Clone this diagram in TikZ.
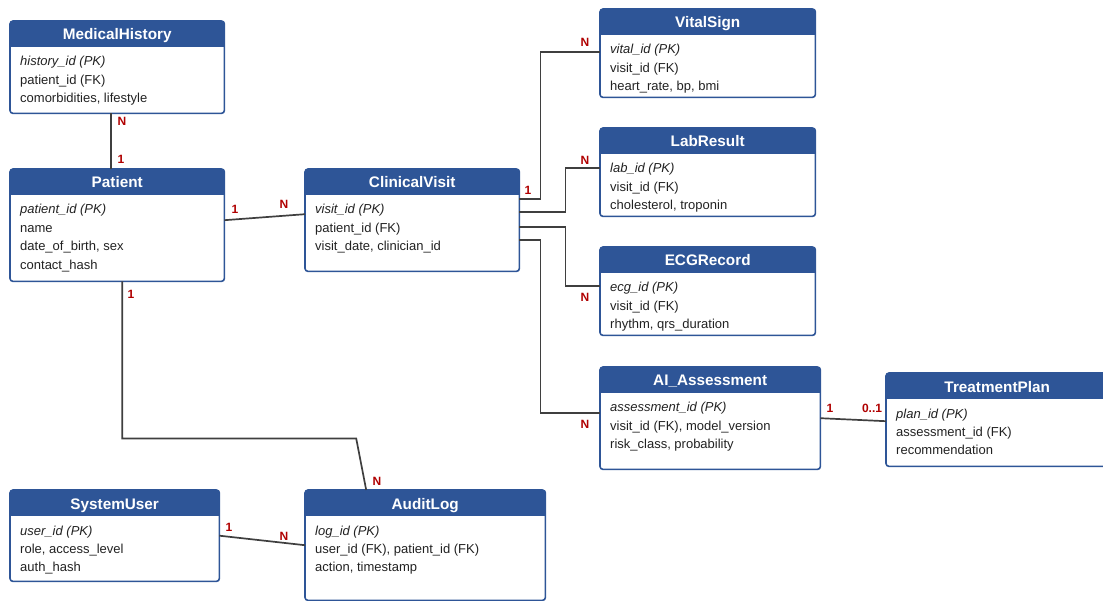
\documentclass[tikz,border=0pt]{standalone}
\usepackage{fontspec}
\setmainfont{Liberation Sans}
\usetikzlibrary{calc,positioning}
\definecolor{hdrblue}{HTML}{2E5597}
\definecolor{cardred}{HTML}{B00000}
\definecolor{linkgray}{HTML}{3F3F3F}
\definecolor{rowtext}{HTML}{222222}
\newcommand{\rowfont}{\fontsize{13}{16}\selectfont}
% name, x, y, width, height, title, key row, other rows
\newcommand{\entity}[8]{%
  \node[entbody, minimum width=#4pt, minimum height=#5pt] (#1) at (#2,#3) {};
  \begin{scope}
    \clip[rounded corners=3pt] (#1.north west) rectangle (#1.south east);
    \fill[hdrblue] (#1.north west) rectangle ($(#1.north east)+(0,26)$);
  \end{scope}
  \draw[entline] (#1.north west) rectangle (#1.south east);
  \node[enttitle] (#1-title) at ($(#1.north)+(0,19)$) {#6};
  \node[entrow, font=\rowfont\itshape] (#1-key) at ($(#1.north west)+(10,45)$) {#7};
  \foreach \r [count=\i] in {#8}
    \node[entrow] (#1-row\i) at ($(#1.north west)+(10,{45+18.4*\i})$) {\r};
}

\begin{document}
\begin{tikzpicture}[x=1pt, y=-1pt,
  entbody/.style={anchor=north west, inner sep=0pt, fill=white, rounded corners=3pt},
  entline/.style={draw=hdrblue, line width=1.6pt, rounded corners=3pt},
  enttitle/.style={anchor=base, inner sep=0pt, text=white, font=\fontsize{15.3}{18}\selectfont\bfseries},
  entrow/.style={anchor=base west, inner sep=0pt, text=rowtext, font=\rowfont},
  card/.style={inner sep=0pt, text=cardred, font=\fontsize{12}{14}\selectfont\bfseries},
  link/.style={draw=linkgray, line width=1.7pt}]

\useasboundingbox (0,0) rectangle (1103,601);

\entity{history}{10}{21}{214}{92}{MedicalHistory}{history\_id (PK)}{{patient\_id (FK)},{comorbidities, lifestyle}}
\entity{patient}{10}{169}{214}{112}{Patient}{patient\_id (PK)}{{name},{date\_of\_birth, sex},{contact\_hash}}
\entity{visit}{305}{169}{214}{102}{ClinicalVisit}{visit\_id (PK)}{{patient\_id (FK)},{visit\_date, clinician\_id}}
\entity{vital}{600}{9}{215}{88}{VitalSign}{vital\_id (PK)}{{visit\_id (FK)},{heart\_rate, bp, bmi}}
\entity{lab}{600}{128}{215}{88}{LabResult}{lab\_id (PK)}{{visit\_id (FK)},{cholesterol, troponin}}
\entity{ecg}{600}{247}{215}{88}{ECGRecord}{ecg\_id (PK)}{{visit\_id (FK)},{rhythm, qrs\_duration}}
\entity{assess}{600}{367}{220}{102}{AI\_Assessment}{assessment\_id (PK)}{{visit\_id (FK), model\_version},{risk\_class, probability}}
\entity{plan}{886}{373}{222}{93}{TreatmentPlan}{plan\_id (PK)}{{assessment\_id (FK)},{recommendation}}
\entity{user}{10}{490}{209}{91}{SystemUser}{user\_id (PK)}{{role, access\_level},{auth\_hash}}
\entity{audit}{305}{490}{240}{110}{AuditLog}{log\_id (PK)}{{user\_id (FK), patient\_id (FK)},{action, timestamp}}

% relationships
\draw[link] ($(history.south)+(-6,0)$) -- ($(patient.north)+(-6,0)$);
\draw[link] ($(patient.east)+(0,-5)$) -- ($(visit.west)+(0,-6)$);
\draw[link] ($(visit.east)+(0,-21)$) -- ++(21,0) |- ($(vital.west)+(0,-1)$);
\draw[link] ($(visit.east)+(0,-8)$) -- ++(46,0) |- ($(lab.west)+(0,-4)$);
\draw[link] ($(visit.east)+(0,7)$) -- ++(46,0) |- ($(ecg.west)+(0,-5)$);
\draw[link] ($(visit.east)+(0,20)$) -- ++(21,0) |- ($(assess.west)+(0,-5)$);
\draw[link] (assess.east) -- ($(plan.west)+(0,1.5)$);
\draw[link] ($(patient.south)+(5,0)$) -- ++(0,157) -- ++(234,0) -- ($(audit.north)+(-59,0)$);
\draw[link] (user.east) -- (audit.west);

% cardinalities
\node[card] (c-hist) at (122,121) {N};
\node[card] (c-pat1) at (121,159) {1};
\node[card] (c-pat2) at (235,209) {1};
\node[card] (c-vis1) at (284,204) {N};
\node[card] (c-vis2) at (528,190) {1};
\node[card] (c-vital) at (585,42) {N};
\node[card] (c-lab) at (585,160) {N};
\node[card] (c-ecg) at (585,297) {N};
\node[card] (c-ass1) at (585,424) {N};
\node[card] (c-ass2) at (830,408) {1};
\node[card] (c-plan) at (872,408) {0..1};
\node[card] (c-pat3) at (131,294) {1};
\node[card] (c-aud1) at (377,481) {N};
\node[card] (c-user) at (229,527) {1};
\node[card] (c-aud2) at (284,536) {N};
\end{tikzpicture}
\end{document}
